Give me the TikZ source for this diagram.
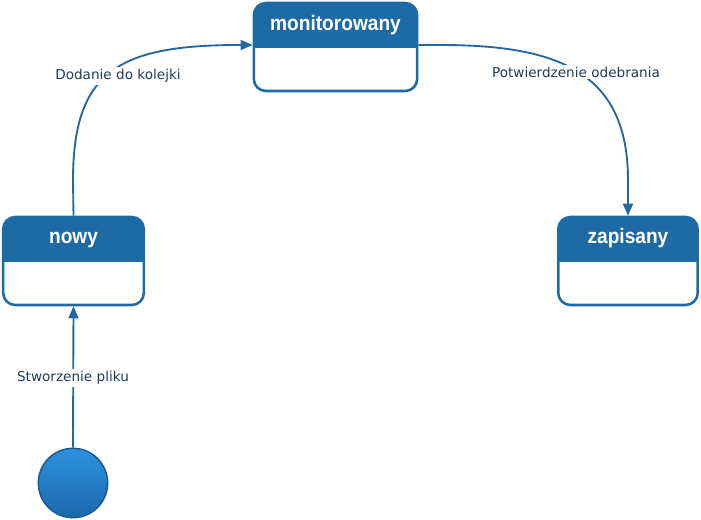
\documentclass[tikz,border=0pt]{standalone}
\usepackage{fontspec}
\setmainfont{Liberation Sans}
\newfontfamily\lblfont{DejaVu Sans}
\newfontfamily\hdrfont[FakeStretch=0.91]{Liberation Sans}
\usetikzlibrary{arrows.meta,calc}
\definecolor{hdrblue}{RGB}{30,106,165}
\definecolor{lineblue}{RGB}{36,104,158}
\definecolor{lbltext}{RGB}{32,60,92}
\definecolor{circtop}{RGB}{45,146,222}
\definecolor{circbot}{RGB}{28,104,172}
\definecolor{circedge}{RGB}{24,88,142}
\tikzset{
  statebox/.style={draw=hdrblue, line width=1.9pt, fill=white, rounded corners=9pt,
    inner sep=0pt,
    path picture={\fill[hdrblue, sharp corners] (path picture bounding box.north west) rectangle
      ($(path picture bounding box.north east)+(0,45)$);}},
  hdrtext/.style={text=white, font=\hdrfont\bfseries\fontsize{15.75}{18}\selectfont, inner sep=0pt, anchor=base},
  lbl/.style={text=lbltext, font=\lblfont\fontsize{10.2}{12}\selectfont, fill=white, inner sep=1.5pt},
  conn/.style={draw=lineblue, line width=1.4pt, -{Triangle[length=9pt,width=7.5pt]}},
  initst/.style={circle, minimum size=52pt, inner sep=0pt, top color=circtop,
    bottom color=circbot, draw=circedge, line width=1.1pt}
}
\begin{document}
\begin{tikzpicture}[x=0.75pt,y=-0.75pt]
\useasboundingbox (0,0) rectangle (701,520);
% states
\node[statebox, minimum width=122.5pt, minimum height=66pt] (mon) at (335.5,47) {};
\node[statebox, minimum width=105.5pt, minimum height=66pt] (nowy) at (73.5,261) {};
\node[statebox, minimum width=104.5pt, minimum height=66pt] (zap) at (628,261) {};
\node[hdrtext] (monT) at ($(mon.north)+(0,29)$) {monitorowany};
\node[hdrtext] (nowyT) at ($(nowy.north)+(0,28)$) {nowy};
\node[hdrtext] (zapT) at ($(zap.north)+(0,28)$) {zapisany};
% initial state
\node[initst] (init) at (73,483) {};
% helper coordinates
\coordinate (monW) at ($(mon.west)+(0,-2)$);
\coordinate (monE) at ($(mon.east)+(0,-2)$);
% connectors
\draw[conn] (init.north) -- (nowy.south);
\draw[conn] (nowy.north) -- (73,180) .. controls (73,70) and (120,45) .. (240,45) -- (monW);
\draw[conn] (monE) -- (440,45) .. controls (555,45) and (628,70) .. (628,180) -- (zap.north);
% labels
\node[lbl] (l1) at (73,378) {Stworzenie pliku};
\node[lbl] (l2) at (118,76) {Dodanie do kolejki};
\node[lbl] (l3) at (576,72) {Potwierdzenie odebrania};
\end{tikzpicture}
\end{document}
